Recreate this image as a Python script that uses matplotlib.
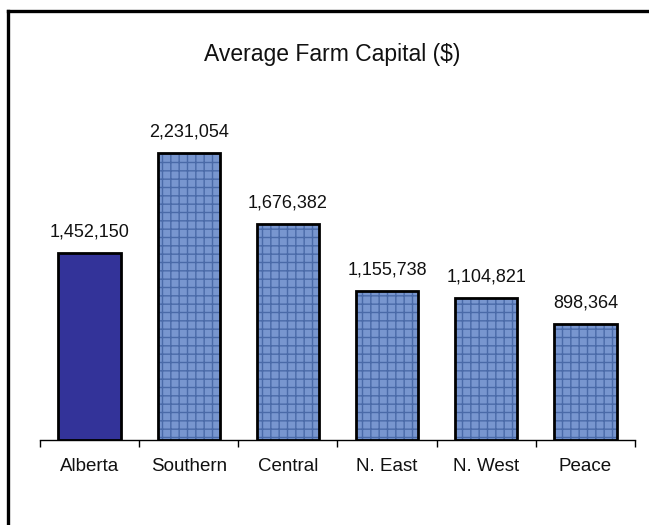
import matplotlib
matplotlib.use("Agg")
import matplotlib.pyplot as plt
from matplotlib import font_manager
from matplotlib.lines import Line2D

categories = ["Alberta", "Southern", "Central", "N. East", "N. West", "Peace"]
values = [1452150, 2231054, 1676382, 1155738, 1104821, 898364]
title = "Average Farm Capital ($)"

names = {f.name for f in font_manager.fontManager.ttflist}
fam = ["Liberation Sans Narrow", "DejaVu Sans"] if "Liberation Sans Narrow" in names else ["Liberation Sans", "DejaVu Sans"]
plt.rcParams["font.family"] = fam

W, H = 649, 525
fig = plt.figure(figsize=(W / 100, H / 100), dpi=100)
ax = fig.add_axes([40 / W, 85 / H, 595 / W, 340 / H])

x = list(range(len(categories)))
colors = ["#333399"] + ["#7896cf"] * (len(categories) - 1)
hatches = [""] + ["++"] * (len(categories) - 1)
bw = 0.63
# fill with texture
for xi, v, c, h in zip(x, values, colors, hatches):
    ax.bar(xi, v, width=bw, color=c, hatch=h, edgecolor="#4a6aa8", linewidth=0, zorder=2)
# outlines
ax.bar(x, values, width=bw, facecolor="none", edgecolor="black", linewidth=2, zorder=3)

for xi, v in zip(x, values):
    ax.annotate(f"{v:,}", (xi, v), xytext=(0, 9), textcoords="offset points",
                ha="center", va="bottom", fontsize=13, color="#111111")

ax.set_xlim(-0.5, len(categories) - 0.5)
ax.set_ylim(0, 2643000)
ax.set_xticks(x)
ax.set_xticklabels(categories, fontsize=13.5, color="#111111")
ax.tick_params(axis="x", which="major", length=0, pad=13)
ax.set_xticks([i - 0.5 for i in range(len(categories) + 1)], minor=True)
ax.tick_params(axis="x", which="minor", length=5, width=1, color="black")
ax.set_yticks([])
for s in ["top", "right", "left"]:
    ax.spines[s].set_visible(False)
ax.spines["bottom"].set_linewidth(1)

fig.text(332 / W, 1 - 55 / H, title, ha="center", va="center", fontsize=16.5, color="#111111")

# outer frame (left and top)
fig.add_artist(Line2D([8 / W, 8 / W], [0, 1 - 11 / H], transform=fig.transFigure, color="black", linewidth=2.4))
fig.add_artist(Line2D([8 / W, 1], [1 - 11 / H, 1 - 11 / H], transform=fig.transFigure, color="black", linewidth=2.4))

fig.savefig("out.png", dpi=100)
